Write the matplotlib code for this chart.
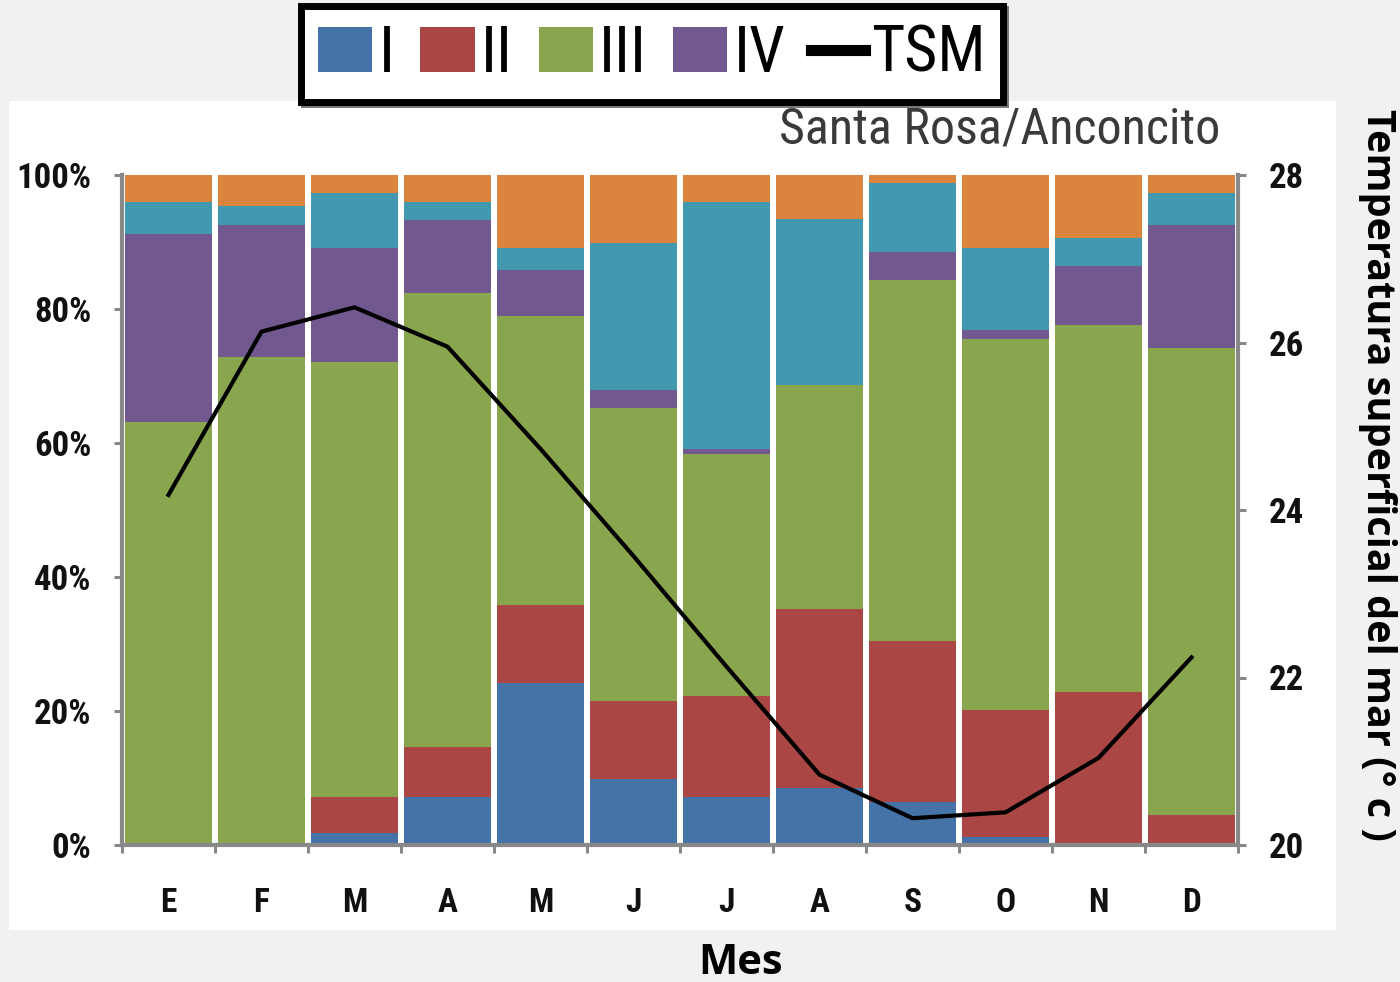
import matplotlib.pyplot as plt
import numpy as np
from matplotlib import font_manager
from matplotlib.patches import Patch, Rectangle
from matplotlib.lines import Line2D

meses = ['E', 'F', 'M', 'A', 'M', 'J', 'J', 'A', 'S', 'O', 'N', 'D']

# porcentajes por clase (cada mes suma ~100)
clase_I = [0, 0, 1.8, 7.2, 24.2, 9.9, 7.2, 8.5, 6.4, 1.2, 0, 0]
clase_II = [0, 0, 5.4, 7.4, 11.6, 11.6, 15.0, 26.7, 24.0, 18.9, 22.8, 4.5]
clase_III = [63.1, 72.8, 64.9, 67.8, 43.2, 43.7, 36.2, 33.5, 53.9, 55.4, 54.8, 69.7]
clase_IV = [28.1, 19.7, 17.0, 10.9, 6.8, 2.7, 0.7, 0, 4.2, 1.4, 8.8, 18.3]
clase_V = [4.8, 2.9, 8.2, 2.7, 3.3, 22.0, 36.9, 24.7, 10.3, 12.2, 4.2, 4.8]
clase_VI = [4.0, 4.6, 2.7, 4.0, 10.9, 10.1, 4.0, 6.6, 1.2, 10.9, 9.4, 2.7]

tsm = [24.18, 26.13, 26.42, 25.95, 24.73, 23.45, 22.13, 20.84, 20.32, 20.39, 21.04, 22.24]

colores = ['#4572a7', '#aa4643', '#89a54e', '#71588f', '#4198af', '#db843d']
series = [clase_I, clase_II, clase_III, clase_IV, clase_V, clase_VI]

# fuente estrecha si existe
nombres = {f.name for f in font_manager.fontManager.ttflist}
narrow = 'Liberation Sans'
for cand in ['Liberation Sans Narrow', 'Arial Narrow', 'Roboto Condensed']:
    if cand in nombres:
        narrow = cand
        break

fig = plt.figure(figsize=(14, 9.82), dpi=100)
fig.patch.set_facecolor('#f2f1ef')

# panel blanco
fig.patches.append(Rectangle((9 / 1400, 1 - 930 / 982), (1336 - 9) / 1400, (930 - 101) / 982,
                             transform=fig.transFigure, facecolor='white', edgecolor='none', zorder=-1))

ax = fig.add_axes([122 / 1400, 1 - 845 / 982, (1238 - 122) / 1400, (845 - 175) / 982])
ax.set_facecolor('white')
x = np.arange(len(meses))
bottom = np.zeros(len(meses))
for vals, c in zip(series, colores):
    ax.bar(x, vals, bottom=bottom, width=0.94, color=c, edgecolor='none', zorder=2)
    bottom += np.array(vals)

ax.set_xlim(-0.5, 11.5)
ax.set_ylim(0, 100)
ax.set_yticks([0, 20, 40, 60, 80, 100])
ax.set_yticklabels(['0%', '20%', '40%', '60%', '80%', '100%'], family=narrow, fontsize=25,
                   fontweight='bold', color='#111111')
ax.set_xticks(np.arange(-0.5, 12, 1))
ax.set_xticklabels([])
ax.set_xticks(x, minor=True)
ax.set_xticklabels(meses, minor=True, family=narrow, fontsize=24, fontweight='bold', color='#111111')
ax.tick_params(axis='x', which='minor', length=0, pad=30)
ax.tick_params(axis='x', which='major', length=6, width=2.2, color='#888888', direction='out')
ax.tick_params(axis='y', length=6, width=2.2, color='#888888', pad=16)
for s in ['top', 'right']:
    ax.spines[s].set_visible(False)
for s in ['left', 'bottom']:
    ax.spines[s].set_color('#888888')
    ax.spines[s].set_linewidth(3)

ax2 = ax.twinx()
ax2.plot(x, tsm, color='black', linewidth=3, zorder=5)
ax2.set_ylim(20, 28)
ax2.set_yticks([20, 22, 24, 26, 28])
ax2.set_yticklabels(['20', '22', '24', '26', '28'], family=narrow, fontsize=25,
                    fontweight='bold', color='#111111')
ax2.tick_params(axis='y', length=6, width=2.2, color='#888888', pad=16)
for s in ['top', 'left', 'bottom']:
    ax2.spines[s].set_visible(False)
ax2.spines['right'].set_color('#888888')
ax2.spines['right'].set_linewidth(3)

fig.text(1220 / 1400, 1 - 144 / 982, 'Santa Rosa/Anconcito', ha='right', va='baseline',
         family=narrow, fontsize=36, color='#3a3a3a')
fig.text(1377 / 1400, 1 - 475 / 982, 'Temperatura superficial del mar (° c )', rotation=-90,
         ha='center', va='center', family='Open Sans', fontweight='bold', fontsize=28.5)
fig.text(741 / 1400, 1 - 963 / 982, 'Mes', ha='center', va='center',
         family='Open Sans', fontweight='bold', fontsize=30)

handles = [Patch(facecolor=c) for c in colores[:4]] + [Line2D([0], [0], color='black', linewidth=8)]
leg = fig.legend(handles, ['I', 'II', 'III', 'IV', 'TSM'], ncol=5, loc='center',
                 bbox_to_anchor=(652 / 1400, 1 - 54 / 982), prop={'family': narrow, 'size': 46},
                 frameon=True, fancybox=False, shadow={'color': '#555555', 'alpha': 0.8},
                 handlelength=0.85, handleheight=0.7,
                 handletextpad=0.1, columnspacing=0.4, borderpad=0.26)
leg.get_frame().set_edgecolor('black')
leg.get_frame().set_linewidth(5)

fig.savefig('out.png', dpi=100, facecolor=fig.get_facecolor())
